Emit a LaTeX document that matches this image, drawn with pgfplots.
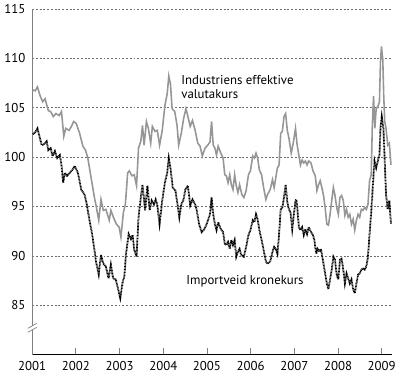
\documentclass[border=0pt]{standalone}
\usepackage{fontspec}
\setmainfont{PT Sans}
\usepackage{pgfplots}
\pgfplotsset{compat=1.18}
\definecolor{greyline}{RGB}{150,150,150}
\definecolor{gridgrey}{RGB}{110,110,110}
\begin{document}
\fontsize{13bp}{15bp}\selectfont
\begin{tikzpicture}
\begin{axis}[
  scale only axis, width=364bp, height=350bp,
  xmin=2001, xmax=2009.226, ymin=80, ymax=115,
  axis x line=bottom, axis y line=left,
  axis line style={-},
  x axis line style={black, line width=0.8bp},
  y axis line style={gray, line width=0.8bp},
  xtick={2001,2002,...,2009},
  ytick={85,90,...,115},
  xtick align=inside,
  major tick length=7bp,
  xtick style={gray, line width=0.8bp},
  ytick style={draw=none},
  ymajorgrids,
  grid style={gridgrey, line width=0.5bp, dash pattern=on 2bp off 1.8bp},
  /pgf/number format/1000 sep={},
  /pgf/number format/assume math mode=true,
  xticklabel style={yshift=-2bp},
  yticklabel style={xshift=1bp},
  tick label style={font=\fontsize{13bp}{15bp}\selectfont},
  clip=false,
]
\addplot[greyline, line width=1.6bp] coordinates {
(2001.015,106.8) (2001.068,106.7) (2001.120,107.1) (2001.181,106.2) (2001.241,105.6)
(2001.294,105.9) (2001.369,104.7) (2001.422,104.6) (2001.482,104.1) (2001.542,104.4)
(2001.618,104.2) (2001.670,104.6) (2001.723,102.1) (2001.768,102.9) (2001.844,102.7)
(2001.896,103.1) (2001.949,103.6) (2002.009,103.4) (2002.085,102.4) (2002.160,101.1)
(2002.220,100.7) (2002.273,99.9) (2002.348,97.9) (2002.424,95.9) (2002.461,95.1)
(2002.522,93.6) (2002.574,95.7) (2002.627,94.6) (2002.687,94.7) (2002.763,93.6)
(2002.800,94.6) (2002.876,93.7) (2002.928,93.2) (2002.989,92.9) (2003.030,91.9)
(2003.087,94.4) (2003.132,95.2) (2003.185,98.4) (2003.222,98.6) (2003.282,98.1)
(2003.335,98.2) (2003.388,97.1) (2003.433,100.9) (2003.486,101.6) (2003.524,103.2)
(2003.561,101.2) (2003.614,103.6) (2003.659,102.9) (2003.712,101.4) (2003.750,103.1)
(2003.810,102.6) (2003.862,102.7) (2003.915,101.2) (2003.976,102.7) (2004.036,105.2)
(2004.089,106.4) (2004.126,108.2) (2004.164,107.4) (2004.202,104.9) (2004.262,104.6)
(2004.315,103.2) (2004.352,101.2) (2004.412,102.4) (2004.465,103.9) (2004.518,104.9)
(2004.563,104.1) (2004.616,103.1) (2004.668,103.7) (2004.729,102.7) (2004.789,101.4)
(2004.842,101.1) (2004.894,100.1) (2004.955,100.9) (2005.015,101.2) (2005.068,101.5)
(2005.105,103.6) (2005.143,101.2) (2005.181,100.9) (2005.218,100.2) (2005.256,101.1)
(2005.316,100.4) (2005.369,99.9) (2005.407,98.2) (2005.444,98.1) (2005.482,97.4)
(2005.520,98.2) (2005.557,97.2) (2005.595,96.7) (2005.633,98.2) (2005.670,97.1)
(2005.708,96.4) (2005.746,97.2) (2005.798,96.2) (2005.844,95.9) (2005.896,96.6)
(2005.949,98.2) (2005.994,98.6) (2006.047,100.1) (2006.085,99.9) (2006.122,100.4)
(2006.160,99.9) (2006.198,98.7) (2006.250,98.2) (2006.296,96.9) (2006.348,95.7)
(2006.386,96.2) (2006.446,96.7) (2006.499,97.7) (2006.537,96.9) (2006.574,97.9)
(2006.612,98.9) (2006.650,99.2) (2006.687,102.4) (2006.725,102.6) (2006.763,104.1)
(2006.800,104.4) (2006.838,102.7) (2006.876,101.9) (2006.928,100.4) (2006.974,101.4)
(2007.026,102.9) (2007.064,101.2) (2007.102,100.2) (2007.139,99.2) (2007.177,99.7)
(2007.215,99.4) (2007.252,99.6) (2007.290,99.2) (2007.328,99.6) (2007.380,99.4)
(2007.426,98.6) (2007.478,98.1) (2007.516,96.6) (2007.554,97.2) (2007.591,97.6)
(2007.629,96.9) (2007.667,96.1) (2007.704,94.9) (2007.742,93.2) (2007.780,93.1)
(2007.817,94.2) (2007.855,95.6) (2007.893,96.9) (2007.930,96.1) (2007.968,94.9)
(2008.006,94.2) (2008.043,95.9) (2008.081,96.1) (2008.119,95.6) (2008.156,94.1)
(2008.194,94.7) (2008.232,93.9) (2008.269,94.2) (2008.307,93.2) (2008.345,93.7)
(2008.382,92.6) (2008.420,93.6) (2008.458,94.2) (2008.495,93.9) (2008.533,94.7)
(2008.571,94.6) (2008.608,94.9) (2008.646,94.7) (2008.684,95.2) (2008.721,97.6)
(2008.759,98.2) (2008.782,102.9) (2008.812,106.2) (2008.842,102.9) (2008.872,104.9)
(2008.910,105.1) (2008.947,105.6) (2008.970,109.6) (2008.993,111.2) (2009.023,109.9)
(2009.045,106.2) (2009.068,103.6) (2009.098,102.9) (2009.136,101.2) (2009.173,101.4)
(2009.211,99.2)
};
\addplot[black, line width=1.8bp, dash pattern=on 0.9bp off 0.6bp] coordinates {
(2001.015,102.3) (2001.068,102.5) (2001.120,102.9) (2001.166,102.1) (2001.218,101.2)
(2001.271,101.3) (2001.331,101.6) (2001.369,100.7) (2001.422,100.9) (2001.467,100.1)
(2001.520,100.6) (2001.572,99.9) (2001.633,100.2) (2001.670,99.2) (2001.708,97.4)
(2001.746,98.4) (2001.798,98.1) (2001.859,98.4) (2001.919,98.7) (2001.972,99.1)
(2002.047,98.4) (2002.122,96.7) (2002.198,96.2) (2002.250,95.2) (2002.311,93.6)
(2002.371,92.2) (2002.424,90.6) (2002.461,89.4) (2002.522,88.1) (2002.574,90.1)
(2002.627,89.2) (2002.687,88.9) (2002.748,87.7) (2002.800,89.1) (2002.853,87.7)
(2002.913,87.6) (2002.951,86.9) (2003.015,85.7) (2003.072,87.4) (2003.109,87.9)
(2003.147,90.2) (2003.207,92.2) (2003.260,91.7) (2003.298,92.1) (2003.335,90.6)
(2003.388,89.9) (2003.433,93.9) (2003.486,95.9) (2003.524,97.2) (2003.584,94.6)
(2003.637,97.1) (2003.689,94.6) (2003.734,95.6) (2003.787,95.2) (2003.825,95.7)
(2003.862,95.2) (2003.915,93.2) (2003.976,95.6) (2004.036,97.4) (2004.089,98.4)
(2004.126,99.9) (2004.164,98.9) (2004.217,96.9) (2004.277,96.6) (2004.337,94.9)
(2004.367,93.9) (2004.412,95.2) (2004.465,95.7) (2004.503,96.7) (2004.563,97.1)
(2004.616,95.1) (2004.668,95.7) (2004.729,95.2) (2004.767,94.6) (2004.819,93.2)
(2004.879,92.4) (2004.940,92.7) (2004.992,93.2) (2005.068,94.2) (2005.105,95.9)
(2005.143,94.2) (2005.181,93.2) (2005.218,92.6) (2005.256,93.4) (2005.316,92.7)
(2005.369,92.4) (2005.407,91.2) (2005.444,91.1) (2005.482,91.4) (2005.520,90.7)
(2005.557,91.6) (2005.595,91.1) (2005.633,91.6) (2005.670,89.9) (2005.708,90.4)
(2005.746,90.7) (2005.783,90.1) (2005.844,89.9) (2005.896,90.9) (2005.949,92.1)
(2005.994,92.6) (2006.047,93.6) (2006.085,93.4) (2006.122,94.2) (2006.160,93.7)
(2006.198,92.6) (2006.250,91.6) (2006.296,90.6) (2006.348,89.4) (2006.386,89.2)
(2006.446,89.4) (2006.499,90.4) (2006.537,90.9) (2006.574,90.7) (2006.612,90.2)
(2006.650,92.2) (2006.687,94.7) (2006.725,94.9) (2006.763,95.9) (2006.800,97.2)
(2006.838,95.4) (2006.876,94.7) (2006.913,94.4) (2006.951,92.7) (2006.989,94.2)
(2007.026,95.6) (2007.049,95.7) (2007.079,94.2) (2007.102,92.9) (2007.139,92.6)
(2007.177,92.9) (2007.215,92.1) (2007.252,92.7) (2007.290,92.2) (2007.328,92.9)
(2007.380,92.4) (2007.426,92.1) (2007.456,91.6) (2007.501,90.2) (2007.531,90.7)
(2007.576,90.4) (2007.606,90.7) (2007.652,89.6) (2007.704,88.2) (2007.742,87.2)
(2007.780,86.6) (2007.817,87.6) (2007.855,88.6) (2007.893,89.9) (2007.930,89.6)
(2007.968,88.1) (2008.006,87.6) (2008.043,89.6) (2008.081,89.7) (2008.119,88.6)
(2008.156,87.2) (2008.194,88.2) (2008.232,87.7) (2008.269,87.2) (2008.307,87.6)
(2008.345,86.6) (2008.382,86.2) (2008.420,87.2) (2008.458,88.1) (2008.495,88.2)
(2008.533,88.6) (2008.571,88.7) (2008.608,88.6) (2008.646,88.9) (2008.684,89.9)
(2008.721,92.2) (2008.759,94.4) (2008.797,97.2) (2008.834,99.6) (2008.872,98.9)
(2008.910,99.6) (2008.947,100.2) (2008.970,102.9) (2009.000,104.1) (2009.038,102.9)
(2009.068,99.6) (2009.098,96.2) (2009.136,94.7) (2009.173,95.6) (2009.211,93.2)
};
\node[anchor=base west, inner sep=0pt] at (axis cs:2004.41,107.3) {Industriens effektive};
\node[anchor=base west, inner sep=0pt] at (axis cs:2004.41,105.9) {valutakurs};
\node[anchor=base west, inner sep=0pt] at (axis cs:2004.525,87.1) {Importveid kronekurs};
\coordinate (brk) at (axis cs:2001,82.7);
\end{axis}
\fill[white] ([shift={(-1.5bp,-2bp)}]brk) rectangle ([shift={(1.5bp,2bp)}]brk);
\draw[gray, line width=0.7bp] ([shift={(-4.5bp,-4.5bp)}]brk) -- ([shift={(4.5bp,0.5bp)}]brk);
\draw[gray, line width=0.7bp] ([shift={(-4.5bp,-0.5bp)}]brk) -- ([shift={(4.5bp,4.5bp)}]brk);
\path ([shift={(-30bp,-24bp)}]current axis.south west) rectangle ([shift={(6bp,9bp)}]current axis.north east);
\end{tikzpicture}
\end{document}
